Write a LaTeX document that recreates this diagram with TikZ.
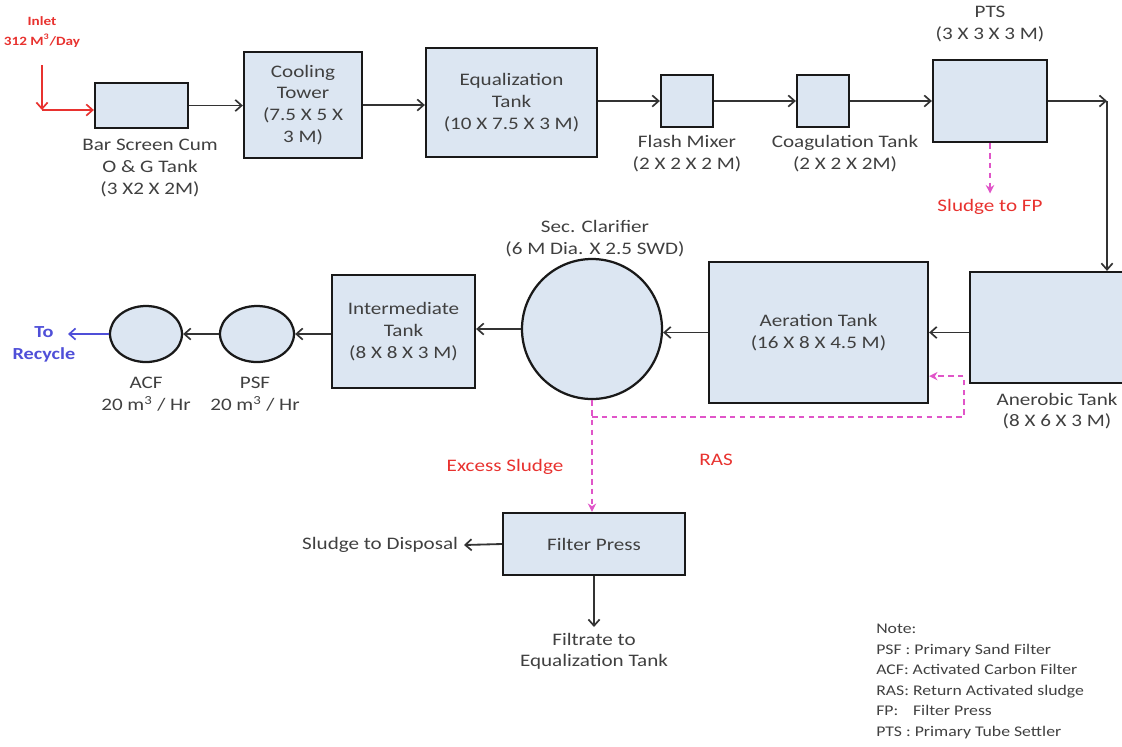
\documentclass[tikz,border=0pt]{standalone}
\usepackage{fontspec}
\setmainfont{Carlito}[FakeStretch=1.2]
\usetikzlibrary{arrows.meta, positioning, calc, shapes.geometric}
\definecolor{tankblue}{HTML}{DCE6F2}
\definecolor{txtgray}{HTML}{404040}
\definecolor{sludgered}{HTML}{E8322F}
\definecolor{raspink}{HTML}{E055C8}
\definecolor{recycleblue}{HTML}{4F4FD8}
\newcommand{\px}{0.025cm}
\newcommand{\tankbox}[6]{%
  % #1=name, #2=x, #3=y, #4=width, #5=height, #6=text
  \node[tank, minimum width=#4*\px, minimum height=#5*\px] (#1) at (#2,#3) {#6};
}

\begin{document}
\begin{tikzpicture}[
  x=0.025cm, y=-0.025cm,
  tank/.style={draw=black!90, line width=1.6pt, fill=tankblue, align=center, text=txtgray, inner sep=2pt, font=\fontsize{12.5}{15.5}\selectfont},
  vessel/.style={draw=black!90, line width=1.6pt, fill=tankblue, inner sep=0pt},
  lbl/.style={align=center, text=txtgray, inner sep=0pt, font=\fontsize{12.5}{15.5}\selectfont},
  redlbl/.style={lbl, text=sludgered, inner sep=4pt},
  arr/.style={-{Straight Barb[length=4.5pt, width=8pt, line width=1.2pt]}, line width=1.3pt, black!80},
  inarr/.style={arr, sludgered},
  sludge/.style={-{Stealth[length=6pt, width=6pt]}, dash pattern=on 4pt off 3pt, line width=1.1pt, raspink},
]
\useasboundingbox (0,0) rectangle (1122,746);
\clip (0,0) rectangle (1122,746);

% Inlet
\node[lbl, text=sludgered, font=\bfseries\fontsize{9}{14}\selectfont] (inlet) at (42,32) {Inlet\\312 M\textsuperscript{3}/Day};
\coordinate (intop) at (42,65);
\coordinate (inturn) at (42,110);

% Top row of tanks
\tankbox{bar}{141.5}{105.5}{93}{45}{}
\tankbox{cool}{303}{105}{118}{106}{Cooling\\Tower\\(7.5 X 5 X\\3 M)}
\tankbox{eq}{511.5}{102.5}{171}{109}{Equalization\\Tank\\(10 X 7.5 X 3 M)}
\tankbox{flash}{687}{101}{52}{52}{}
\tankbox{coag}{823}{101}{52}{52}{}
\tankbox{pts}{990}{101}{114}{82}{}
\node[lbl] (barlbl) at (150,168) {Bar Screen Cum\\O \& G Tank\\(3 X2 X 2M)};
\node[lbl] (flashlbl) at (687,153.5) {Flash Mixer\\(2 X 2 X 2 M)};
\node[lbl] (coaglbl) at (845,153.5) {Coagulation Tank\\(2 X 2 X 2M)};
\node[lbl] (ptslbl) at (990,24) {PTS\\(3 X 3 X 3 M)};
\node[redlbl] (sfp) at (990,207) {Sludge to FP};

% Middle row
\tankbox{ana}{1053}{327.5}{166}{111}{}
\tankbox{aer}{818.5}{332.5}{219}{141}{Aeration Tank\\(16 X 8 X 4.5 M)}
\node[vessel, circle, minimum size=140*\px] (clar) at (592,329) {};
\tankbox{inter}{403.5}{331.5}{143}{113}{Intermediate\\Tank\\(8 X 8 X 3 M)}
\node[vessel, ellipse, minimum width=74*\px, minimum height=56*\px] (psf) at (257,334) {};
\node[vessel, ellipse, minimum width=72*\px, minimum height=56*\px] (acf) at (146,334) {};
\node[lbl] (analbl) at (1057,411) {Anerobic Tank\\(8 X 6 X 3 M)};
\node[lbl] (clarlbl) at (595,239) {Sec. Clarifier\\(6 M Dia. X 2.5 SWD)};
\node[lbl] (psflbl) at (255,394) {PSF\\20 m\textsuperscript{3} / Hr};
\node[lbl] (acflbl) at (146,394) {ACF\\20 m\textsuperscript{3} / Hr};
\node[lbl, text=recycleblue, font=\bfseries\fontsize{12}{15.6}\selectfont] (recycle) at (44,344) {To\\Recycle};
\coordinate (outlet) at (68,334);

% Sludge handling
\tankbox{fp}{594}{544}{182}{62}{Filter Press}
\node[redlbl] (exlbl) at (505,467) {Excess Sludge};
\node[redlbl] (raslbl) at (716,460) {RAS};
\node[lbl, anchor=east, inner sep=4pt] (disp) at (464,545) {Sludge to Disposal};
\node[lbl, anchor=north, inner sep=4pt] (filt) at (594,627) {Filtrate to\\Equalization Tank};
\coordinate (ptsturn) at (1107,101);
\coordinate (rasturn) at (964,417);

% Note
\node[lbl, anchor=north west, align=left, font=\fontsize{10.5}{14.6}\selectfont] (note) at (876,624) {Note:\\PSF : Primary Sand Filter\\ACF: Activated Carbon Filter\\RAS: Return Activated sludge\\FP:\quad Filter Press\\PTS : Primary Tube Settler};

% Arrows
\draw[inarr] (intop) -- (inturn);
\draw[inarr] (inturn) -- (inturn -| bar.west);
\draw[arr] (bar.east) -- (bar.east -| cool.west);
\draw[arr] (cool.east) -- (cool.east -| eq.west);
\draw[arr] (eq.east |- flash.west) -- (flash.west);
\draw[arr] (flash.east) -- (coag.west);
\draw[arr] (coag.east) -- (coag.east -| pts.west);
\draw[arr] (pts.east) -- (ptsturn);
\draw[arr] (ptsturn) -- (ptsturn |- ana.north);
\draw[arr] (ana.west |- aer.east) -- (aer.east);
\draw[arr] (aer.west) -- (aer.west -| clar.east);
\draw[arr] (clar.west) -- (clar.west -| inter.east);
\draw[arr] (psf.east -| inter.west) -- (psf.east);
\draw[arr] (psf.west) -- (acf.east);
\draw[arr, recycleblue] (acf.west) -- (outlet);
\draw[arr] (fp.west) -- (disp.east);
\draw[arr] (fp.south) -- (filt.north);

% Dashed sludge lines
\draw[sludge] (pts.south) -- (sfp.north);
\draw[sludge] (clar.south) -- (clar.south |- fp.north);
\draw[sludge] (clar.south |- rasturn) -- (rasturn) |- ($(aer.south east)+(0,-28)$);

\end{tikzpicture}
\end{document}
